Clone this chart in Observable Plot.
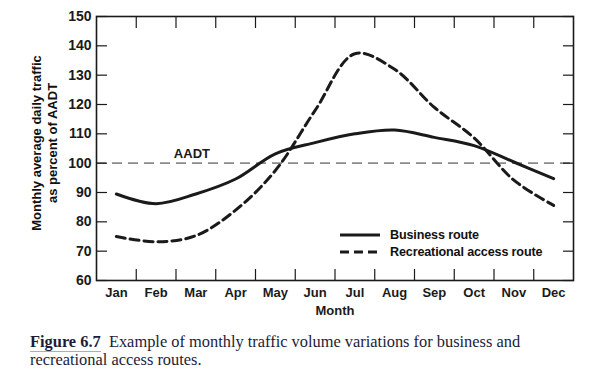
<!DOCTYPE html>
<html>
<head>
<meta charset="utf-8">
<script src="https://cdn.jsdelivr.net/npm/d3@7"></script>
<script src="https://cdn.jsdelivr.net/npm/@observablehq/plot@0.6"></script>
<style>
  html, body { margin: 0; padding: 0; background: #fff; }
  #wrap { position: relative; width: 616px; height: 379px; font-family: "Liberation Sans", Arial, sans-serif; }
  #ytitle { position: absolute; left: 45px; top: 143px; transform: translate(-50%, -50%) rotate(-90deg);
    font-weight: bold; font-size: 13px; line-height: 16px; text-align: center; white-space: nowrap; color: #111; }
  #legend { position: absolute; left: 340px; top: 226px; font-weight: bold; font-size: 12.6px; letter-spacing: -0.15px; color: #111; }
  #legend div { height: 17px; display: flex; align-items: center; }
  #legend svg { margin-right: 10px; }
  #caption { position: absolute; left: 30px; top: 333px; font-family: "Liberation Serif", "Times New Roman", serif;
    font-size: 16.4px; line-height: 18px; color: #1c1c38; }
  #caption b { border-bottom: 1px solid #8fb5d8; }
</style>
</head>
<body>
<div id="wrap">
  <div id="chart"></div>
  <div id="ytitle">Monthly average daily traffic<br>as percent of AADT</div>
  <div id="legend"></div>
  <div id="caption"><b>Figure 6.7</b>&nbsp; Example of monthly traffic volume variations for business and<br>recreational access routes.</div>
</div>
<script>
const months = ["Jan","Feb","Mar","Apr","May","Jun","Jul","Aug","Sep","Oct","Nov","Dec"];
const business = [89.5, 86.2, 89.5, 94.6, 103.2, 107, 110, 111.3, 108.8, 106, 100.4, 94.7];
const recreational = [75, 73.2, 75.3, 84, 97.5, 118, 137.3, 132, 119, 108.6, 94.2, 85.6];
const yTicks = [60, 70, 80, 90, 100, 110, 120, 130, 140, 150];
const aadt = 100;
const aadtLabelX = 2.9; // month position of the "AADT" label
const seriesNames = ["Business route", "Recreational access route"];

const rows = [];
months.forEach((m, i) => {
  rows.push({i: i + 1, v: business[i], s: seriesNames[0]});
  rows.push({i: i + 1, v: recreational[i], s: seriesNames[1]});
});
const monthIdx = months.map((m, i) => i + 1);
const boundaries = months.slice(1).map((m, i) => i + 1.5);

const ink = "#1a1a1a";
const chart = Plot.plot({
  width: 616,
  height: 320,
  marginTop: 16,
  marginBottom: 40,
  marginLeft: 96,
  marginRight: 43,
  style: {fontFamily: "'Liberation Sans', Arial, sans-serif", fontWeight: "bold", color: ink, background: "white"},
  x: {type: "linear", domain: [0.5, 12.5]},
  y: {domain: [60, 150]},
  marks: [
    Plot.ruleY([aadt], {stroke: "#8a8a8a", strokeWidth: 1.6, strokeDasharray: "10,6"}),
    Plot.text(["AADT"], {x: () => aadtLabelX, y: () => aadt, dy: -9, fontSize: 13, fontWeight: "bold", fill: ink}),
    Plot.line(rows.filter(d => d.s === seriesNames[0]), {x: "i", y: "v", curve: "catmull-rom", stroke: ink, strokeWidth: 3}),
    Plot.line(rows.filter(d => d.s === seriesNames[1]), {x: "i", y: "v", curve: "catmull-rom", stroke: ink, strokeWidth: 3, strokeDasharray: "9,5"}),
    Plot.axisY({anchor: "left", ticks: yTicks, tickSize: 0, tickPadding: 5, fontSize: 14, label: null}),
    Plot.axisY({anchor: "left", ticks: yTicks, tickSize: -11, tickFormat: () => "", label: null, strokeWidth: 1.2}),
    Plot.axisY({anchor: "right", ticks: yTicks, tickSize: -11, tickFormat: () => "", label: null, strokeWidth: 1.2}),
    Plot.axisX({anchor: "bottom", ticks: monthIdx, tickSize: 0, tickPadding: 7, tickFormat: d => months[d - 1], fontSize: 13,
      label: "Month", labelAnchor: "center", labelOffset: 34, labelArrow: "none"}),
    Plot.axisX({anchor: "bottom", ticks: boundaries, tickSize: -11, tickFormat: () => "", label: null, strokeWidth: 1.2}),
    Plot.axisX({anchor: "top", ticks: boundaries, tickSize: -11, tickFormat: () => "", label: null, strokeWidth: 1.2}),
    Plot.frame({stroke: ink, strokeWidth: 1.6})
  ]
});
document.getElementById("chart").appendChild(chart);

const legend = document.getElementById("legend");
[["none"], ["9,5"]].forEach(([dash], k) => {
  const row = document.createElement("div");
  row.innerHTML = `<svg width="40" height="6"><line x1="0" x2="40" y1="3" y2="3" stroke="${ink}" stroke-width="3" ${dash === "none" ? "" : `stroke-dasharray="${dash}"`}/></svg><span>${seriesNames[k]}</span>`;
  legend.appendChild(row);
});
</script>
</body>
</html>
